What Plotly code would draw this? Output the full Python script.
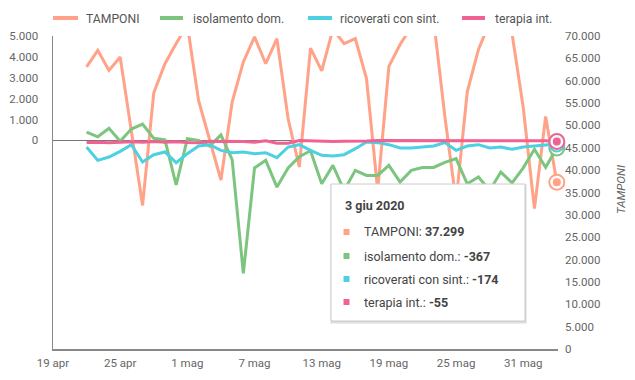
import plotly.graph_objects as go
import pandas as pd

# ---------------- data ----------------
dates = pd.date_range("2020-04-22", "2020-06-03", freq="D")

tamponi = [63100, 66800, 62300, 65300, 48700, 32100, 57300, 63800, 68300, 72500,
           55600, 46700, 37800, 55200, 64200, 69800, 63800, 69400, 51500, 40700,
           67300, 62200, 71500, 68300, 69400, 60500, 35500, 63200, 68100, 72000,
           75000, 73500, 52000, 33000, 57500, 67000, 73000, 72500, 70500, 54000,
           31400, 52000, 37299]

isolamento = [398, 170, 580, -40, 540, 780, 95, 25, -2140, 80,
              0, -280, 260, -920, -6380, -1320, -960, -2240, -1320, -780,
              -500, -2080, -1200, -2400, -1440, -1680, -1680, -1200, -2000, -1440,
              -1300, -1300, -1060, -880, -2080, -1760, -2400, -1520, -2040, -1320,
              -430, -1290, -367]

ricoverati = [-320, -960, -800, -527, -208, -1040, -687, -560, -1070, -640,
              -272, -208, -480, -592, -560, -640, -592, -830, -320, -208,
              -480, -720, -750, -687, -400, -80, -110, -208, -368, -368,
              -320, -272, -110, -480, -272, -208, -368, -320, -430, -320,
              -272, -240, -174]

terapia = [-102, -87, -117, -94, -71, -93, -53, -93, -68, -101,
           -116, -39, -38, -22, -52, -94, -22, -143, -134, -7,
           -28, -47, -59, -38, -47, -33, -13, -13, -33, -40,
           -36, -45, -23, -19, -12, -20, -16, -16, -39, -15,
           -11, -16, -55]

series_names = ["TAMPONI", "isolamento dom.", "ricoverati con sint.", "terapia int."]

x_tick_dates = ["2020-04-19", "2020-04-25", "2020-05-01", "2020-05-07",
                "2020-05-13", "2020-05-19", "2020-05-25", "2020-05-31"]
x_tick_labels = ["19 apr", "25 apr", "1 mag", "7 mag", "13 mag", "19 mag", "25 mag", "31 mag"]

left_ticks = [0, 1000, 2000, 3000, 4000, 5000]
left_labels = ["0", "1.000", "2.000", "3.000", "4.000", "5.000"]

right_ticks = [0, 5000, 10000, 15000, 20000, 25000, 30000, 35000,
               40000, 45000, 50000, 55000, 60000, 65000, 70000]
right_labels = ["0", "5.000", "10.000", "15.000", "20.000", "25.000", "30.000", "35.000",
                "40.000", "45.000", "50.000", "55.000", "60.000", "65.000", "70.000"]

tooltip_title = "3 giu 2020"
tooltip_values = ["37.299", "-367", "-174", "-55"]

# ---------------- style ----------------
C_T = "#ffa288"
C_I = "#7cc57f"
C_R = "#4dd0e1"
C_P = "#f06292"
colors = [C_T, C_I, C_R, C_P]
FONT = "Roboto"
W, H = 635, 380
L, R, T, B = 53, 558, 36, 349
TICK_FS = 11.5


def px(xp):
    return (xp - L) / (R - L)


def py(yp):
    return (B - yp) / (B - T)


fig = go.Figure()

# TAMPONI on primary axis (right side), drawn underneath
fig.add_trace(go.Scatter(x=dates, y=tamponi, mode="lines", name=series_names[0],
                         line=dict(color=C_T, width=3), yaxis="y", showlegend=False))
for vals, nm, c in [(isolamento, series_names[1], C_I),
                    (ricoverati, series_names[2], C_R),
                    (terapia, series_names[3], C_P)]:
    fig.add_trace(go.Scatter(x=dates, y=vals, mode="lines", name=nm,
                             line=dict(color=c, width=3), yaxis="y2", showlegend=False))

# focus markers on last point
last_vals = [(tamponi[-1], "y", C_T), (isolamento[-1], "y2", C_I),
             (ricoverati[-1], "y2", C_R), (terapia[-1], "y2", C_P)]
for v, ax, c in last_vals:
    fig.add_trace(go.Scatter(x=[dates[-1]], y=[v], mode="markers", yaxis=ax,
                             showlegend=False, cliponaxis=False,
                             marker=dict(size=15, color="rgba(255,255,255,0.85)",
                                         line=dict(color=c, width=2))))
    fig.add_trace(go.Scatter(x=[dates[-1]], y=[v], mode="markers", yaxis=ax,
                             showlegend=False, cliponaxis=False,
                             marker=dict(size=8, color=c, line=dict(width=0))))

shapes = []
annotations = []

# manual legend
legend_pos = [(53, 78, 84), (160, 183, 191), (308, 332, 338), (462, 485, 493)]
for (x0, x1, xt), nm, c in zip(legend_pos, series_names, colors):
    shapes.append(dict(type="line", xref="paper", yref="paper",
                       x0=px(x0), x1=px(x1), y0=py(18), y1=py(18),
                       line=dict(color=c, width=4)))
    annotations.append(dict(xref="paper", yref="paper", x=px(xt), y=py(18.5),
                            xanchor="left", yanchor="middle", showarrow=False,
                            text=nm, font=dict(family=FONT, size=12.2, color="#555555")))

# right axis title
annotations.append(dict(xref="paper", yref="paper", x=px(621), y=py(190),
                        xanchor="center", yanchor="middle", showarrow=False,
                        text="<i>TAMPONI</i>", textangle=-90,
                        font=dict(family=FONT, size=11.5, color="#666666")))

# tooltip box
bx0, bx1, by0, by1 = 331, 525, 184, 321
shapes.append(dict(type="rect", xref="paper", yref="paper", layer="above",
                   x0=px(bx0 - 1), x1=px(bx1 + 2), y0=py(by0), y1=py(by1 + 3),
                   fillcolor="rgba(0,0,0,0.07)", line=dict(width=0)))
shapes.append(dict(type="rect", xref="paper", yref="paper", layer="above",
                   x0=px(bx0), x1=px(bx1 + 1), y0=py(by0 + 1), y1=py(by1 + 1.5),
                   fillcolor="rgba(0,0,0,0.10)", line=dict(width=0)))
shapes.append(dict(type="rect", xref="paper", yref="paper", layer="above",
                   x0=px(bx0), x1=px(bx1), y0=py(by0), y1=py(by1),
                   fillcolor="white", line=dict(color="#cccccc", width=1)))
annotations.append(dict(xref="paper", yref="paper", x=px(343), y=py(205),
                        xanchor="left", yanchor="middle", showarrow=False,
                        text="<b>" + tooltip_title + "</b>",
                        font=dict(family=FONT, size=12.5, color="#444444")))
row_y = [232, 256, 279, 302]
for ry, nm, val, c in zip(row_y, series_names, tooltip_values, colors):
    shapes.append(dict(type="rect", xref="paper", yref="paper", layer="above",
                       x0=px(343.5), x1=px(349.5), y0=py(ry + 3), y1=py(ry - 3),
                       fillcolor=c, line=dict(width=0)))
    annotations.append(dict(xref="paper", yref="paper", x=px(361.5), y=py(ry),
                            xanchor="left", yanchor="middle", showarrow=False,
                            text=nm + ": <b>" + val + "</b>",
                            font=dict(family=FONT, size=12.5, color="#444444")))

fig.update_layout(
    width=W, height=H,
    margin=dict(l=L, r=W - R, t=T, b=H - B, pad=0, autoexpand=False),
    paper_bgcolor="white", plot_bgcolor="white",
    font=dict(family=FONT, size=12, color="#666666"),
    showlegend=False,
    hovermode=False,
    xaxis=dict(type="date", range=["2020-04-19", "2020-06-03 02:30"],
               tickvals=x_tick_dates, ticktext=x_tick_labels, automargin=False,
               showgrid=False, zeroline=False, showline=True,
               linecolor="#888888", linewidth=1.5, ticks="",
               ticklabelstandoff=3,
               tickfont=dict(family=FONT, size=TICK_FS, color="#666666")),
    yaxis=dict(side="right", range=[0, 70000], tickvals=right_ticks, ticktext=right_labels,
               automargin=False,
               showgrid=False, zeroline=False, showline=False, ticks="",
               ticklabelstandoff=6,
               tickfont=dict(family=FONT, size=TICK_FS, color="#666666")),
    yaxis2=dict(overlaying="y", side="left", range=[-10000, 5000],
                tickvals=left_ticks, ticktext=left_labels, automargin=False,
                showgrid=False, zeroline=True, zerolinecolor="#777777", zerolinewidth=1.5,
                showline=True, linecolor="#888888", linewidth=1.5, ticks="",
                ticklabelstandoff=11,
                tickfont=dict(family=FONT, size=TICK_FS, color="#666666")),
    shapes=shapes,
    annotations=annotations,
)

fig.write_html("out.html",
               config={"displayModeBar": False, "staticPlot": True},
               post_script="document.body.style.margin='0';document.body.style.padding='0';")
